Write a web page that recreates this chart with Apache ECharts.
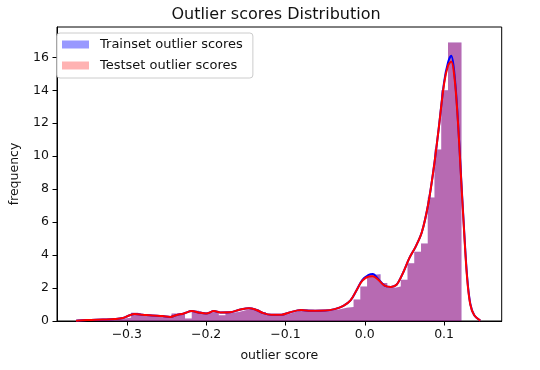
<!DOCTYPE html>
<html><head><meta charset="utf-8">
<script src="https://cdn.jsdelivr.net/npm/echarts@6/dist/echarts.min.js"></script>
<style>html,body{margin:0;padding:0;background:#fff}#c{width:540px;height:370px}</style>
</head><body><div id="c"></div>
<script>
// histogram bin edges (58 edges -> 57 bins)
const binEdges = [-0.3626,-0.3541,-0.3456,-0.3371,-0.3286,-0.3201,-0.3116,-0.3031,-0.2946,-0.2861,
  -0.2776,-0.2691,-0.2606,-0.2521,-0.2436,-0.2351,-0.2266,-0.2181,-0.2096,-0.2011,
  -0.1926,-0.1841,-0.1756,-0.1671,-0.1586,-0.1501,-0.1416,-0.1331,-0.1246,-0.1161,
  -0.1076,-0.0991,-0.0906,-0.0821,-0.0736,-0.0651,-0.0566,-0.0481,-0.0396,-0.0311,
  -0.0226,-0.0141,-0.0056,0.0029,0.0114,0.0199,0.0284,0.0369,0.0454,0.0539,
  0.0624,0.0709,0.0794,0.0879,0.0964,0.1049,0.1134,0.1219];
const trainHist = [0.08,0.08,0.1,0.1,0.12,0.12,0.15,0.2,0.5,0.38,
  0.32,0.3,0.28,0.25,0.45,0.4,0.15,0.62,0.5,0.5,
  0.62,0.35,0.5,0.55,0.65,0.75,0.72,0.55,0.4,0.35,
  0.38,0.5,0.62,0.7,0.68,0.62,0.6,0.65,0.72,0.8,
  0.85,1.3,2.1,2.8,2.85,2.3,2.0,2.1,2.5,3.5,
  4.2,4.7,7.5,10.4,14.0,16.9,16.9];
const testHist = [0.08,0.08,0.1,0.1,0.12,0.12,0.15,0.2,0.5,0.38,
  0.32,0.3,0.28,0.25,0.45,0.4,0.15,0.62,0.5,0.5,
  0.62,0.35,0.5,0.55,0.65,0.75,0.72,0.55,0.4,0.35,
  0.38,0.5,0.62,0.7,0.68,0.62,0.6,0.65,0.72,0.8,
  0.85,1.3,2.1,2.8,2.8,2.3,2.0,2.1,2.5,3.5,
  4.2,4.7,7.5,10.4,14.0,16.9,16.9];
// KDE curves
const kdeX = [-0.364,-0.35,-0.33,-0.315,-0.305,-0.298,-0.29,-0.28,-0.268,-0.255,
  -0.245,-0.238,-0.228,-0.218,-0.21,-0.2,-0.19,-0.182,-0.17,-0.158,
  -0.146,-0.138,-0.128,-0.118,-0.105,-0.095,-0.08,-0.068,-0.05,-0.038,
  -0.027,-0.018,-0.01,-0.003,0.005,0.01,0.017,0.025,0.033,0.04,
  0.048,0.056,0.064,0.072,0.08,0.087,0.093,0.1,0.105,0.109,
  0.113,0.117,0.121,0.125,0.129,0.133,0.138,0.1456];
const testKde = [0.02,0.06,0.09,0.12,0.18,0.32,0.42,0.38,0.33,0.3,
  0.25,0.35,0.46,0.6,0.52,0.45,0.6,0.52,0.53,0.68,
  0.78,0.7,0.48,0.38,0.38,0.52,0.66,0.62,0.63,0.72,
  0.92,1.25,1.9,2.45,2.7,2.72,2.5,2.15,2.07,2.2,
  2.9,3.8,4.5,5.4,7.1,9.3,11.6,14.4,15.5,15.75,
  14.8,12.4,9.0,5.6,2.6,1.0,0.35,0.02];
const trainKde = [0.02,0.06,0.09,0.12,0.18,0.32,0.42,0.38,0.33,0.3,
  0.25,0.35,0.46,0.6,0.52,0.45,0.6,0.52,0.53,0.68,
  0.78,0.7,0.48,0.38,0.38,0.52,0.66,0.62,0.63,0.72,
  0.92,1.25,1.9,2.5,2.8,2.85,2.55,2.15,2.07,2.2,
  2.9,3.8,4.5,5.4,7.1,9.3,11.6,14.5,15.7,16.1,
  15.0,12.5,9.1,5.7,2.7,1.05,0.35,0.02];
const xTicks = [-0.3,-0.2,-0.1,0.0,0.1];
const yTicks = [0,2,4,6,8,10,12,14,16];
const seriesNames = ['Trainset outlier scores','Testset outlier scores'];

const FONT = 'DejaVu Sans';
function stepData(edges, h){
  const d = [];
  for (let i = 0; i < h.length; i++) d.push([edges[i], h[i]]);
  d.push([edges[edges.length-1], h[h.length-1]]);
  return d;
}
function pairs(xs, ys){ return xs.map((x,i)=>[x, ys[i]]); }

const chart = echarts.init(document.getElementById('c'), null, {renderer:'canvas'});
const trainFill = 'rgba(0,0,255,0.4)';
const testFill = 'rgba(255,0,0,0.3)';
chart.setOption({
  animation:false,
  backgroundColor:'#fff',
  title:{text:'Outlier scores Distribution', left:276, top:7, textAlign:'center', padding:0,
    textStyle:{fontFamily:FONT, fontSize:16, fontWeight:'normal', color:'#111'}},
  legend:{orient:'vertical', left:57, top:33, padding:[4,10,5,5], itemGap:6, itemWidth:27, itemHeight:8,
    backgroundColor:'#fff', borderColor:'#ccc', borderWidth:1, borderRadius:3,
    textStyle:{fontFamily:FONT, fontSize:13, color:'#111', lineHeight:15, padding:[0,0,0,6]},
    data:[{name:seriesNames[0], icon:'rect', itemStyle:{color:trainFill, opacity:1, borderWidth:0}},
          {name:seriesNames[1], icon:'rect', itemStyle:{color:testFill, opacity:1, borderWidth:0}}]},
  grid:{left:51, right:38.3, top:27, bottom:49, show:true, borderColor:'#000', borderWidth:1},
  xAxis:{type:'value', min:-0.388, max:0.1726,
    axisLine:{show:true, onZero:false, lineStyle:{color:'#000', width:1}},
    axisTick:{show:true, inside:false, length:4.5, lineStyle:{color:'#000'}, customValues:xTicks},
    axisLabel:{customValues:xTicks, margin:7, fontFamily:FONT, fontSize:12.5, color:'#111',
      formatter:v=>v.toFixed(1).replace('-','\u2212')},
    splitLine:{show:false},
    name:'outlier score', nameLocation:'middle', nameGap:28,
    nameTextStyle:{fontFamily:FONT, fontSize:12.5, color:'#111'}},
  yAxis:{type:'value', min:0, max:17.84,
    axisLine:{show:true, onZero:false, lineStyle:{color:'#000', width:1}},
    axisTick:{show:true, inside:false, length:4.5, lineStyle:{color:'#000'}, customValues:yTicks},
    axisLabel:{customValues:yTicks, margin:8, fontFamily:FONT, fontSize:12.5, color:'#111'},
    splitLine:{show:false},
    name:'frequency', nameLocation:'middle', nameGap:36,
    nameTextStyle:{fontFamily:FONT, fontSize:12.5, color:'#111'}},
  series:[
    {name:seriesNames[0], type:'line', step:'end', data:stepData(binEdges, trainHist),
     color:trainFill, showSymbol:false, symbol:'none', lineStyle:{width:0, opacity:0},
     areaStyle:{color:trainFill, opacity:1}, z:1, silent:true},
    {name:seriesNames[1], type:'line', step:'end', data:stepData(binEdges, testHist),
     color:testFill, showSymbol:false, symbol:'none', lineStyle:{width:0, opacity:0},
     areaStyle:{color:testFill, opacity:1}, z:2, silent:true},
    {name:'train kde', type:'line', data:pairs(kdeX, trainKde), smooth:0.35, showSymbol:false, symbol:'none',
     lineStyle:{color:'#0000ff', width:2}, z:3, silent:true},
    {name:'test kde', type:'line', data:pairs(kdeX, testKde), smooth:0.35, showSymbol:false, symbol:'none',
     lineStyle:{color:'#ff0000', width:2}, z:4, silent:true}
  ]
});
</script></body></html>
